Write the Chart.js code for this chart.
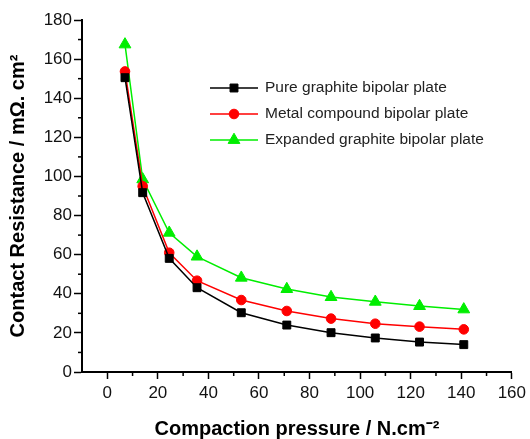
<!DOCTYPE html>
<html>
<head>
<meta charset="utf-8">
<script src="https://cdn.jsdelivr.net/npm/chart.js@4"></script>
<style>
html,body{margin:0;padding:0;background:#fff;}
#wrap{width:530px;height:439px;}
</style>
</head>
<body>
<div id="wrap"><canvas id="c" width="530" height="439"></canvas></div>
<script>
const pressure = [7, 14, 24.5, 35.5, 53, 71, 88.5, 106, 123.5, 141];
const pureGraphite = [150.5, 91.7, 58.1, 43.1, 30.3, 24.0, 20.1, 17.4, 15.3, 14.0];
const metalCompound = [153.7, 95.0, 61.0, 46.7, 36.8, 31.2, 27.3, 24.7, 23.2, 21.8];
const expandedGraphite = [167.5, 98.5, 71.2, 59.0, 48.2, 42.4, 38.3, 35.9, 33.7, 32.0];
const seriesNames = ['Pure graphite bipolar plate', 'Metal compound bipolar plate', 'Expanded graphite bipolar plate'];
const xTicks = [0, 20, 40, 60, 80, 100, 120, 140, 160];
const yTicks = [0, 20, 40, 60, 80, 100, 120, 140, 160, 180];
const xTitle = 'Compaction pressure / N.cm\u207B\u00B2';
const yTitle = 'Contact Resistance / m\u03A9. cm\u00B2';

const FONT = "'Liberation Sans', Arial, sans-serif";

function toXY(ys){ return ys.map((y,i)=>({x:pressure[i], y:y})); }

const minorTicks = {
  id:'minorTicks',
  afterDraw(chart){
    const ctx = chart.ctx;
    const xs = chart.scales.x, ys = chart.scales.y;
    ctx.save();
    ctx.strokeStyle = '#000';
    ctx.lineWidth = 1.5;
    for (let v = 10; v < 180; v += 20){
      const py = ys.getPixelForValue(v);
      ctx.beginPath(); ctx.moveTo(ys.right, py); ctx.lineTo(ys.right-4, py); ctx.stroke();
    }
    for (let v = 10; v < 160; v += 20){
      const px = xs.getPixelForValue(v);
      ctx.beginPath(); ctx.moveTo(px, xs.top); ctx.lineTo(px, xs.top+4); ctx.stroke();
    }
    ctx.restore();
  }
};

const insideLegend = {
  id:'insideLegend',
  afterDraw(chart, args, opts){
    const ctx = chart.ctx;
    ctx.save();
    chart.data.datasets.forEach((ds,i)=>{
      const y = opts.y + i*opts.rowGap;
      const x0 = opts.x, x1 = opts.x + opts.sampleWidth;
      ctx.strokeStyle = ds.borderColor;
      ctx.lineWidth = ds.borderWidth;
      ctx.beginPath(); ctx.moveTo(x0,y); ctx.lineTo(x1,y); ctx.stroke();
      ctx.fillStyle = ds.pointBackgroundColor;
      ctx.strokeStyle = ds.pointBorderColor;
      ctx.lineWidth = 1;
      Chart.helpers.drawPoint(ctx, {pointStyle: ds.pointStyle, radius: ds.pointRadius, borderWidth: 1}, (x0+x1)/2, y);
      ctx.fillStyle = '#222';
      ctx.font = opts.fontSize + 'px ' + FONT;
      ctx.textBaseline = 'middle';
      ctx.textAlign = 'left';
      ctx.fillText(ds.label, x1 + opts.textGap, y);
    });
    ctx.restore();
  }
};

function mkDs(label, data, color, style, r){
  return {
    label, data: toXY(data),
    borderColor: color, backgroundColor: color,
    pointBackgroundColor: color, pointBorderColor: color,
    pointStyle: style, pointRadius: r, pointHoverRadius: r,
    borderWidth: 1.5, pointBorderWidth: 1, tension: 0, fill:false
  };
}

new Chart(document.getElementById('c'), {
  type:'line',
  data:{
    datasets:[
      mkDs(seriesNames[0], pureGraphite, '#000000', 'rect', 5.6),
      mkDs(seriesNames[1], metalCompound, '#ff0000', 'circle', 4.8),
      mkDs(seriesNames[2], expandedGraphite, '#00ee00', 'triangle', 6.8)
    ]
  },
  options:{
    responsive:false, animation:false,
    layout:{padding:{top:20, right:14, left:0, bottom:0}},
    plugins:{
      legend:{display:false}, tooltip:{enabled:false},
      insideLegend:{x:210, y:88, rowGap:26, sampleWidth:48, textGap:7, fontSize:15.5}
    },
    scales:{
      x:{
        type:'linear', min:-10, max:160,
        afterBuildTicks(s){ s.ticks = xTicks.map(v=>({value:v})); },
        afterFit(s){ s.height = 67; },
        grid:{display:true, drawOnChartArea:false, tickLength:7, tickWidth:1.5, tickColor:'#000'},
        border:{display:true, width:2, color:'#000'},
        ticks:{color:'#111', font:{family:FONT, size:17}, padding:4, maxRotation:0, autoSkip:false},
        title:{display:true, text:xTitle, color:'#000', font:{family:FONT, size:20, weight:'bold', lineHeight:1}, padding:{top:0,bottom:0}}
      },
      y:{
        type:'linear', min:0, max:180,
        afterBuildTicks(s){ s.ticks = yTicks.map(v=>({value:v})); },
        afterFit(s){ s.width = 82; },
        grid:{display:true, drawOnChartArea:false, tickLength:8, tickWidth:1.5, tickColor:'#000'},
        border:{display:true, width:2, color:'#000'},
        ticks:{color:'#111', font:{family:FONT, size:17}, padding:2, autoSkip:false},
        title:{display:true, text:yTitle, color:'#000', font:{family:FONT, size:20, weight:'bold', lineHeight:1}, padding:{top:8,bottom:0}}
      }
    }
  },
  plugins:[minorTicks, insideLegend]
});
</script>
</body>
</html>
